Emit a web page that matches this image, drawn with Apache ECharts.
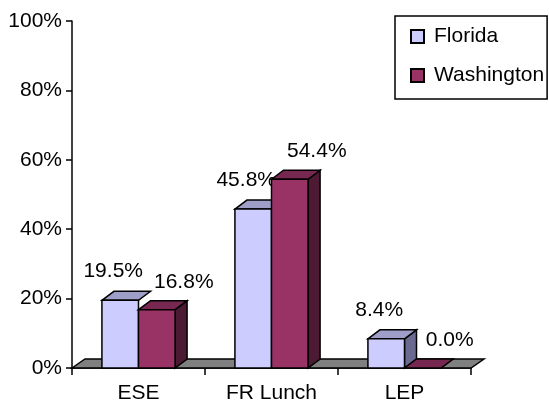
<!DOCTYPE html>
<html>
<head>
<meta charset="utf-8">
<script src="https://cdn.jsdelivr.net/npm/echarts@6/dist/echarts.min.js"></script>
<style>html,body{margin:0;padding:0;background:#fff}#c{width:549px;height:405px}</style>
</head>
<body>
<div id="c"></div>
<script>
const categories = ['ESE', 'FR Lunch', 'LEP'];
const florida = [19.5, 45.8, 8.4];
const washington = [16.8, 54.4, 0.0];
const seriesNames = ['Florida', 'Washington'];

const FONT = "'Liberation Sans', Arial, sans-serif";
const FS = 21;
const DX = 12, DY = 9;
const colors = [
  { front: '#CCCCFF', top: '#9E9EC9', side: '#6A6A90' },
  { front: '#993366', top: '#772850', side: '#4D1A33' }
];
const labelOff = [[-7, -29], [27, -28]];

function makeRender(s) {
  return function (params, api) {
    const ci = api.value(0), v = api.value(1);
    const base = api.coord([ci, 0]);
    const topP = api.coord([ci, v]);
    const catW = api.size([1, 0])[0];
    const bw = catW * 0.275;
    const x0 = s === 0 ? base[0] - bw : base[0];
    const x1 = x0 + bw;
    const y0 = base[1], yt = topP[1];
    const c = colors[s];
    const st = { stroke: '#000', lineWidth: 1.5, lineJoin: 'miter' };
    const children = [];
    const hideSide = s === 0 && washington[ci] > 0;
    if (!hideSide) {
      children.push({ type: 'polygon', shape: { points: [[x1, yt], [x1 + DX, yt - DY], [x1 + DX, y0 - DY], [x1, y0]] },
        style: Object.assign({ fill: c.side }, st) });
    }
    children.push({ type: 'polygon', shape: { points: [[x0, yt], [x0 + DX, yt - DY], [x1 + DX, yt - DY], [x1, yt]] },
      style: Object.assign({ fill: c.top }, st) });
    if (y0 - yt > 0.5) {
      children.push({ type: 'rect', shape: { x: x0, y: yt, width: bw, height: y0 - yt },
        style: Object.assign({ fill: c.front }, st) });
    }
    children.push({ type: 'text', x: (x0 + x1) / 2 + labelOff[s][0], y: yt + labelOff[s][1],
      style: { text: v.toFixed(1) + '%', fill: '#000', font: FS + 'px ' + FONT, align: 'center', verticalAlign: 'middle' } });
    return { type: 'group', children: children };
  };
}

function floorRender(params, api) {
  const cs = params.coordSys;
  const x0 = cs.x, x1 = cs.x + cs.width, y0 = cs.y + cs.height;
  const fdx = 13, fdy = 9;
  return { type: 'polygon', shape: { points: [[x0, y0], [x0 + fdx, y0 - fdy], [x1 + fdx, y0 - fdy], [x1, y0]] },
    style: { fill: '#808080', stroke: '#000', lineWidth: 1.5 } };
}

const chart = echarts.init(document.getElementById('c'), null, { renderer: 'canvas' });
chart.setOption({
  animation: false,
  backgroundColor: '#fff',
  textStyle: { fontFamily: FONT },
  grid: { left: 72, right: 78, top: 21, bottom: 37, containLabel: false },
  legend: {
    data: seriesNames,
    orient: 'vertical',
    left: 395, top: 16,
    padding: [10, 3, 13, 15],
    itemGap: 18,
    itemWidth: 13, itemHeight: 13,
    icon: 'rect',
    borderColor: '#000', borderWidth: 1.5,
    textStyle: { fontSize: FS, color: '#000', fontFamily: FONT, lineHeight: 20, padding: [0, 0, 0, 5] }
  },
  xAxis: {
    type: 'category',
    data: categories,
    boundaryGap: true,
    axisLine: { lineStyle: { color: '#000', width: 1.5 } },
    axisTick: { show: true, length: 7, lineStyle: { color: '#000', width: 1.5 } },
    axisLabel: { fontSize: FS, color: '#000', margin: 15, fontFamily: FONT },
    splitLine: { show: false }
  },
  yAxis: {
    type: 'value',
    min: 0, max: 100, interval: 20,
    axisLine: { show: true, lineStyle: { color: '#000', width: 1.5 } },
    axisTick: { show: true, length: 6, lineStyle: { color: '#000', width: 1.5 } },
    axisLabel: { fontSize: FS, color: '#000', margin: 10, formatter: '{value}%', fontFamily: FONT },
    splitLine: { show: false }
  },
  series: [
    { type: 'custom', name: 'floor', z: 1, silent: true, renderItem: floorRender, data: [[0, 0]] },
    { type: 'custom', name: 'Florida', z: 2, renderItem: makeRender(0),
      itemStyle: { color: colors[0].front, borderColor: '#000', borderWidth: 1 },
      data: florida.map((v, i) => [i, v]) },
    { type: 'custom', name: 'Washington', z: 3, renderItem: makeRender(1),
      itemStyle: { color: colors[1].front, borderColor: '#000', borderWidth: 1 },
      data: washington.map((v, i) => [i, v]) }
  ]
});
</script>
</body>
</html>
